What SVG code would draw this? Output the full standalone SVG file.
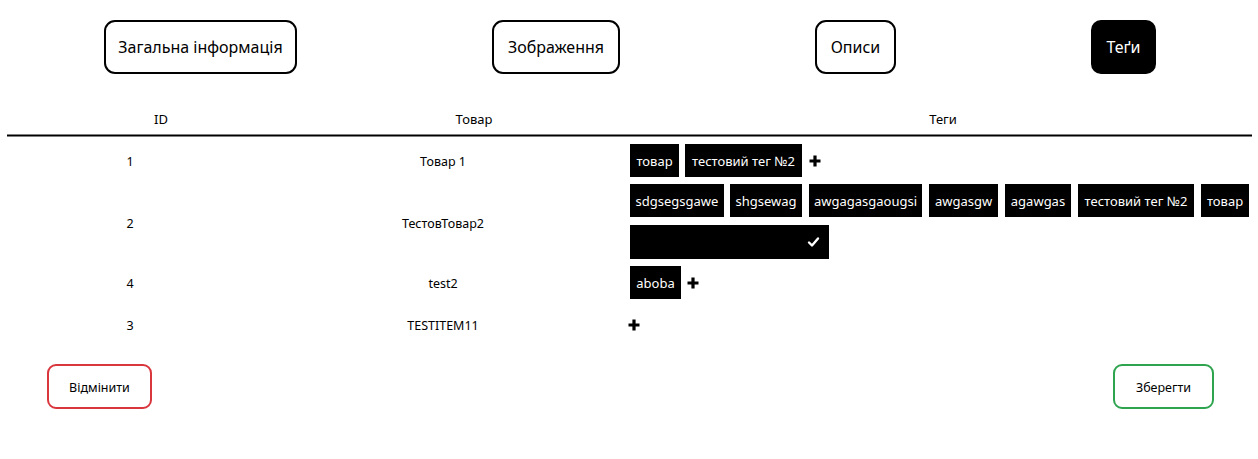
<svg xmlns="http://www.w3.org/2000/svg" width="1258" height="459" viewBox="0 0 1258 459">
<style>
text{font-family:"Noto Sans","Open Sans","Liberation Sans",sans-serif;fill:#000;}
.tab{fill:#fff;stroke:#000;stroke-width:2;}
.tabt{font-size:16px;text-anchor:middle;}
.th{font-size:13px;text-anchor:middle;}
.td{font-size:12.5px;text-anchor:middle;}
.tag{fill:#000;}
.tagt{font-size:13px;fill:#fff;text-anchor:middle;}
</style>
<defs>
<path id="plus" d="M-1.6,-5.5h3.2v3.9h3.9v3.2h-3.9v3.9h-3.2v-3.9h-3.9v-3.2h3.9z"/>
</defs>
<rect width="1258" height="459" fill="#fff"/>
<g id="tab-general"><rect class="tab" x="105" y="21" width="191" height="52" rx="10"/><text class="tabt" x="200.5" y="53">Загальна інформація</text></g>
<g id="tab-images"><rect class="tab" x="493" y="21" width="126" height="52" rx="10"/><text class="tabt" x="556" y="53">Зображення</text></g>
<g id="tab-desc"><rect class="tab" x="816" y="21" width="79" height="52" rx="10"/><text class="tabt" x="855.5" y="53">Описи</text></g>
<g id="tab-tags"><rect x="1091" y="20" width="65" height="54" rx="10" fill="#000"/><text class="tabt" x="1123.5" y="53" style="fill:#fff">Теґи</text></g>
<g id="header">
<text class="th" x="161" y="124">ID</text>
<text class="th" x="474" y="124">Товар</text>
<text class="th" x="943" y="124">Теги</text>
<line x1="7" y1="135.5" x2="1252" y2="135.5" stroke="#000" stroke-width="2"/>
</g>
<g id="row1">
<text class="td" x="130" y="166">1</text>
<text class="td" x="443" y="166">Товар 1</text>
<rect class="tag" x="630" y="144" width="49" height="33"/><text class="tagt" x="654.5" y="166">товар</text>
<rect class="tag" x="685" y="144" width="117" height="33"/><text class="tagt" x="743.5" y="166">тестовий тег №2</text>
<use href="#plus" x="815" y="161"/>
</g>
<g id="row2">
<text class="td" x="130" y="228">2</text>
<text class="td" x="443" y="228">ТестовТовар2</text>
<rect class="tag" x="630" y="184" width="94" height="33"/><text class="tagt" x="677" y="206">sdgsegsgawe</text>
<rect class="tag" x="730" y="184" width="72" height="33"/><text class="tagt" x="766" y="206">shgsewag</text>
<rect class="tag" x="809" y="184" width="113" height="33"/><text class="tagt" x="865.5" y="206">awgagasgaougsi</text>
<rect class="tag" x="929" y="184" width="69" height="33"/><text class="tagt" x="963.5" y="206">awgasgw</text>
<rect class="tag" x="1005" y="184" width="66" height="33"/><text class="tagt" x="1038" y="206">agawgas</text>
<rect class="tag" x="1078" y="184" width="116" height="33"/><text class="tagt" x="1136" y="206">тестовий тег №2</text>
<rect class="tag" x="1201" y="184" width="48" height="33"/><text class="tagt" x="1225" y="206">товар</text>
<rect class="tag" x="630" y="225" width="199" height="34"/>
<path d="M809,242.5l3,3l6,-7" fill="none" stroke="#fff" stroke-width="2.4" stroke-linecap="round" stroke-linejoin="round"/>
</g>
<g id="row4">
<text class="td" x="130" y="288">4</text>
<text class="td" x="443" y="288">test2</text>
<rect class="tag" x="630" y="266" width="51" height="33"/><text class="tagt" x="655.5" y="288">aboba</text>
<use href="#plus" x="693" y="283"/>
</g>
<g id="row3">
<text class="td" x="130" y="330">3</text>
<text class="td" x="443" y="330">TESTITEM11</text>
<use href="#plus" x="634" y="325"/>
</g>
<g id="btn-cancel"><rect x="48" y="365" width="103" height="43" rx="8" fill="#fff" stroke="#d9363e" stroke-width="2"/><text class="td" x="99.5" y="392">Відмінити</text></g>
<g id="btn-save"><rect x="1114" y="365" width="99" height="43" rx="8" fill="#fff" stroke="#2ea44f" stroke-width="2"/><text class="td" x="1163.5" y="392">Зберегти</text></g>
<g id="connectors"></g>
</svg>
